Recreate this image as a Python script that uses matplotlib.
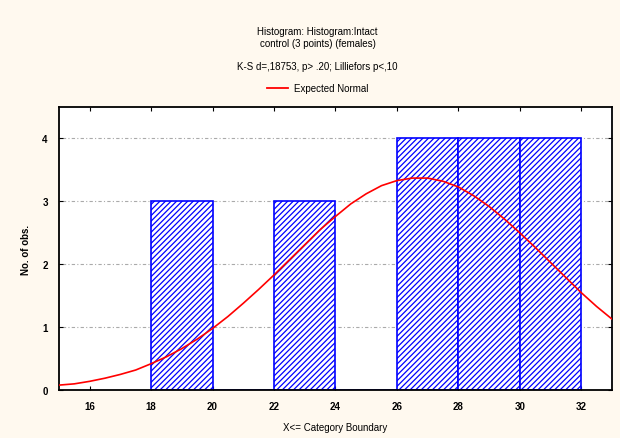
import matplotlib
matplotlib.use('Agg')
import matplotlib.pyplot as plt
from matplotlib.lines import Line2D

# Histogram counts per 2-unit class (left edge, count)
bin_left = [18, 20, 22, 24, 26, 28, 30]
counts = [3, 0, 3, 0, 4, 4, 4]
bin_width = 2

# Expected normal curve
curve_x = [15, 15.5, 16, 16.5, 17, 17.5, 18, 18.5, 19, 19.5, 20, 20.5, 21, 21.5, 22, 22.5,
           23, 23.5, 24, 24.5, 25, 25.5, 26, 26.5, 27, 27.5, 28, 28.5, 29, 29.5, 30, 30.5,
           31, 31.5, 32, 32.5, 33]
curve_y = [0.08, 0.10, 0.14, 0.19, 0.25, 0.32, 0.42, 0.53, 0.66, 0.81, 0.98, 1.17, 1.38,
           1.60, 1.83, 2.07, 2.31, 2.55, 2.76, 2.96, 3.12, 3.25, 3.33, 3.37, 3.37, 3.32,
           3.23, 3.09, 2.92, 2.72, 2.50, 2.27, 2.03, 1.79, 1.55, 1.33, 1.13]

x_ticks = [16, 18, 20, 22, 24, 26, 28, 30, 32]
y_ticks = [0, 1, 2, 3, 4]

plt.rcParams['font.family'] = ['Liberation Sans', 'DejaVu Sans']
plt.rcParams['hatch.linewidth'] = 0.9
plt.rcParams['hatch.color'] = '#2020ff'

bg = '#fff9ef'
fig = plt.figure(figsize=(6.2, 4.39), dpi=100, facecolor=bg)
ax = fig.add_axes([0.095, 0.109, 0.892, 0.645])
ax.set_facecolor('white')

ax.bar(bin_left, counts, width=bin_width, align='edge', facecolor='white',
       edgecolor='#0000ff', hatch='//////', linewidth=1.2, zorder=2)
ax.plot(curve_x, curve_y, color='#ff0000', linewidth=1.2, zorder=3)

ax.set_xlim(15, 33)
ax.set_ylim(0, 4.5)
ax.set_xticks(x_ticks)
ax.set_yticks(y_ticks)
ax.tick_params(direction='in', top=True, right=True, length=3, labelsize=7, pad=8)
for lbl in ax.get_xticklabels() + ax.get_yticklabels():
    lbl.set_fontweight('bold')
ax.yaxis.grid(True, linestyle=(0, (1, 2, 3, 2)), color='#aaaaaa', linewidth=0.8, zorder=0)
for s in ax.spines.values():
    s.set_linewidth(1.3)
    s.set_color('black')

ax.set_xlabel('X<= Category Boundary', fontsize=7, labelpad=8)
ax.set_ylabel('No. of obs.', fontsize=7, labelpad=8, fontweight='bold')

fig.text(0.512, 0.914, 'Histogram: Histogram:Intact\ncontrol (3 points) (females)',
         ha='center', va='center', fontsize=7, linespacing=1.3)
fig.text(0.512, 0.847, 'K-S d=,18753, p> .20; Lilliefors p<,10',
         ha='center', va='center', fontsize=7)

handle = Line2D([], [], color='#ff0000', linewidth=1.3)
fig.legend([handle], ['Expected Normal'], loc='center', bbox_to_anchor=(0.512, 0.797),
           frameon=False, fontsize=7, handlelength=2.2, handletextpad=0.6)

fig.savefig('out.png', dpi=100, facecolor=bg)
